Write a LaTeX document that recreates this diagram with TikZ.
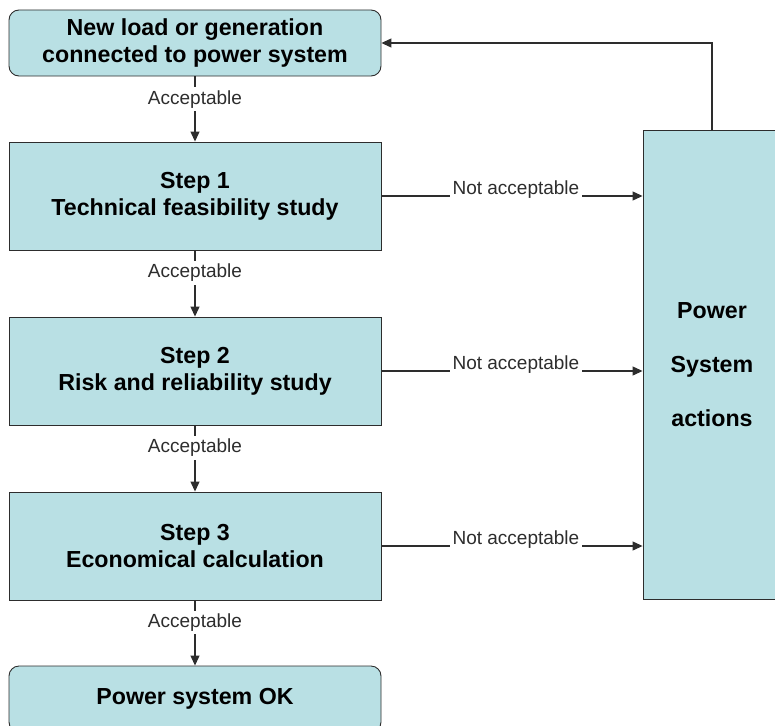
\documentclass[tikz,border=0pt]{standalone}
\usepackage{fontspec}
\setmainfont{Liberation Sans}
\usetikzlibrary{arrows.meta}
\definecolor{boxfill}{RGB}{185,224,228}
\definecolor{edge}{RGB}{45,45,45}

\begin{document}
\begin{tikzpicture}[x=1pt, y=-1pt, >={Triangle[length=10pt, width=9pt]},
  box/.style={draw=edge, line width=0.9pt, fill=boxfill, minimum width=372pt, align=center,
    font=\bfseries\fontsize{23.2}{27}\selectfont},
  rbox/.style={box, rounded corners=10pt, minimum height=66pt},
  sbox/.style={box, minimum height=108pt},
  lbl/.style={fill=white, inner sep=3pt, font=\fontsize{19}{22}\selectfont},
  link/.style={->, edge, line width=1.1pt}]
  \useasboundingbox (0,0) rectangle (775,725);
  \clip (0,0) rectangle (775,725);
  % flow boxes
  \node[rbox] (new) at (195,43) {New load or generation\\connected to power system};
  \node[sbox] (s1) at (195,196) {Step 1\\Technical feasibility study};
  \node[sbox] (s2) at (195,371) {Step 2\\Risk and reliability study};
  \node[sbox] (s3) at (195,546) {Step 3\\Economical calculation};
  \node[rbox] (ok) at (195,699) {Power system OK};
  \node[box, minimum width=138pt, minimum height=469pt, font=\bfseries\fontsize{23.2}{54}\selectfont]
    (act) at (712,364.5) {Power\\System\\actions};
  % acceptable path
  \draw[link] (new) -- node[lbl, pos=0.35]{Acceptable} (s1);
  \draw[link] (s1) -- node[lbl, pos=0.34]{Acceptable} (s2);
  \draw[link] (s2) -- node[lbl, pos=0.34]{Acceptable} (s3);
  \draw[link] (s3) -- node[lbl, pos=0.34]{Acceptable} (ok);
  % rejected path
  \foreach \s in {s1,s2,s3}
    \draw[link] (\s.east) -- node[lbl, anchor=base, yshift=2pt, pos=0.515]{Not acceptable} (\s.east -| act.west);
  \draw[link] (act.north) |- (new.east);
\end{tikzpicture}
\end{document}
